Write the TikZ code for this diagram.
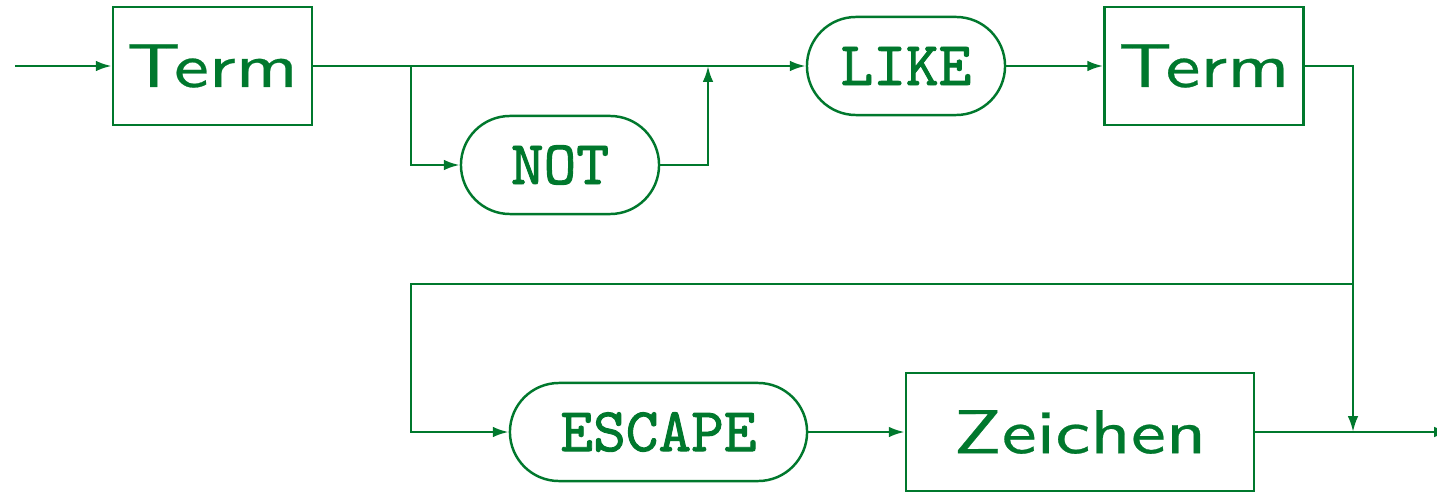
\documentclass[tikz,border=0pt]{standalone}
\usepackage{tikz}
\usetikzlibrary{arrows.meta, positioning}
\definecolor{sqlgreen}{HTML}{00782D}
% wide sans for the non-terminals, heavier mono for the keywords
\DeclareFontFamily{TU}{widess}{}
\DeclareFontShape{TU}{widess}{m}{n}{<-> "[lmsans10-regular]:mapping=tex-text;extend=1.27;embolden=0.4"}{}
\DeclareFontFamily{TU}{heavytt}{}
\DeclareFontShape{TU}{heavytt}{m}{n}{<-> "[lmmono10-regular]:embolden=1.5"}{}

\begin{document}
\begin{tikzpicture}[x=0.01cm, y=-0.01cm, line width=0.7pt, sqlgreen,
    nonterm/.style={rectangle, draw=sqlgreen, minimum width=1.99cm, minimum height=1.18cm,
      inner sep=0pt, font=\fontfamily{widess}\fontsize{17.6}{20}\selectfont},
    keyword/.style={rectangle, rounded corners=0.49cm, draw=sqlgreen, minimum width=1.98cm,
      minimum height=0.98cm, inner sep=0pt, font=\fontfamily{heavytt}\fontsize{17.7}{20}\selectfont},
    conn/.style={-{Latex[length=4.5pt,width=3pt]}}]

    \clip (0,0) rectangle (1437,491);
    \fill[white] (0,0) rectangle (1437,491);

    % first row
    \node (term1) [nonterm] at (212.5,66) {Term};
    \node (not) [keyword] at (560,165) {NOT};
    \node (like) [keyword] at (906,66) {LIKE};
    \node (term2) [nonterm] at (1204,66) {Term};

    % second row
    \node (escape) [keyword, minimum width=2.97cm] at (658.5,432) {ESCAPE};
    \node (zeichen) [nonterm, minimum width=3.48cm] at (1080,432) {Zeichen};

    % turning points
    \coordinate (in) at (15,66);
    \coordinate (split) at (411,66);
    \coordinate (join) at (708,66);
    \coordinate (merge) at (1353,432);
    \coordinate (back) at (1353,284);
    \coordinate (backl) at (411,284);
    \coordinate (out) at (1450,432);

    % connections
    \draw[conn] (in) -- (term1);
    \draw[conn] (term1) -- (like);
    \draw[conn] (split) |- (not);
    \draw[conn] (not) -| (join);
    \draw[conn] (like) -- (term2);
    \draw[conn] (term2) -| (merge);
    \draw[conn] (back) -- (backl) |- (escape);
    \draw[conn] (escape) -- (zeichen);
    \draw[conn] (zeichen) -- (out);
\end{tikzpicture}
\end{document}
